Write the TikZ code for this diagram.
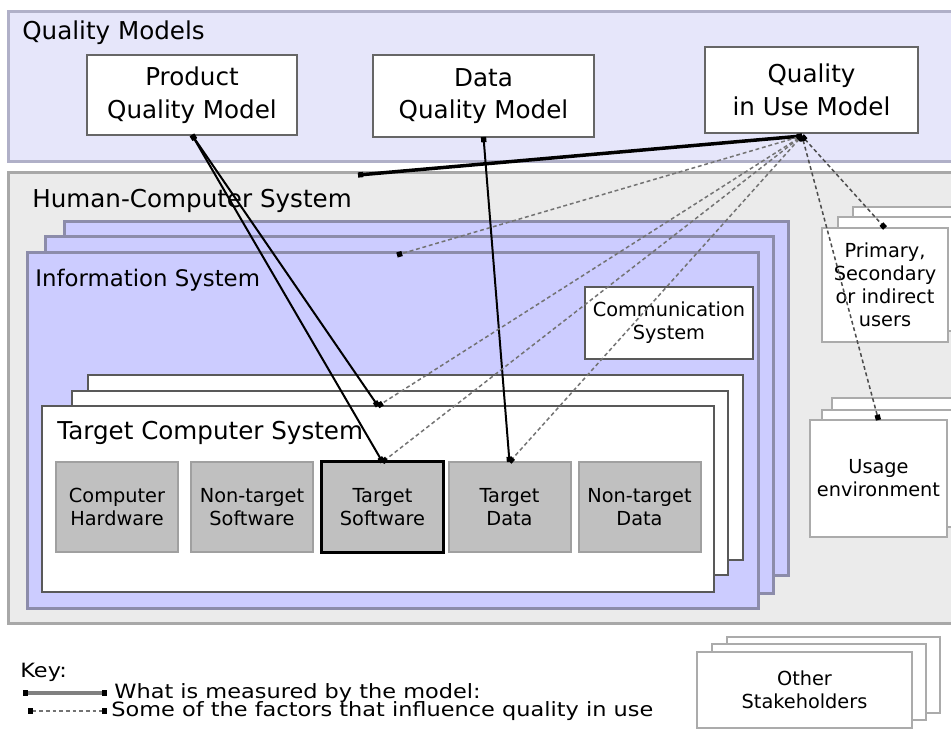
\documentclass[tikz,border=0pt]{standalone}
\usepackage{fontspec}
\setmainfont{DejaVu Sans}
\newfontfamily\keyfont[FakeStretch=1.14]{DejaVu Sans}
\usetikzlibrary{arrows.meta}
\definecolor{qmfill}{RGB}{230,230,250}
\definecolor{qmline}{RGB}{176,176,200}
\definecolor{hcfill}{RGB}{235,235,235}
\definecolor{hcline}{RGB}{168,168,168}
\definecolor{isfill}{RGB}{204,204,255}
\definecolor{isline}{RGB}{140,140,170}
\definecolor{partfill}{RGB}{192,192,192}
\definecolor{partline}{RGB}{160,160,160}
\newcommand{\pxu}{0.02cm}
\tikzset{
	sqtip/.tip={Square[length=3pt,width=3pt,color=black]},
	qmpanel/.style={draw=qmline, fill=qmfill, line width=3*\pxu},
	hcpanel/.style={draw=hcline, fill=hcfill, line width=3*\pxu},
	ispanel/.style={draw=isline, fill=isfill, line width=3*\pxu},
	tcsbox/.style={draw=black!65, fill=white, line width=2*\pxu, inner sep=0pt, outer sep=0pt},
	modelbox/.style={draw=black!60, fill=white, line width=2*\pxu, align=center, inner sep=0pt, outer sep=0pt, font=\fontsize{14}{18.5}\selectfont},
	sidebox/.style={draw=black!33, fill=white, line width=2*\pxu, align=center, inner sep=0pt, outer sep=0pt, font=\fontsize{11}{13}\selectfont},
	partbox/.style={draw=partline, fill=partfill, line width=2*\pxu, align=center, inner sep=0pt, outer sep=0pt, minimum width=122*\pxu, minimum height=90*\pxu, font=\fontsize{11}{13}\selectfont},
	tgtbox/.style={partbox, draw=black, line width=3*\pxu},
	title/.style={anchor=west, inner sep=0pt, font=\fontsize{14}{17}\selectfont},
	keytext/.style={anchor=west, inner sep=0pt, font=\keyfont\fontsize{11.2}{13}\selectfont},
	meas/.style={draw=black, line width=2*\pxu, sqtip-sqtip},
	infl/.style={draw=black!55, line width=1.5*\pxu, dash pattern=on 2.2pt off 1.6pt, sqtip-sqtip}
}
\begin{document}
\begin{tikzpicture}[x=0.02cm,y=-0.02cm]
	\useasboundingbox (0,0) rectangle (951,733);
	\clip (0,0) rectangle (951,733);
	\fill[white] (0,0) rectangle (951,733);
	\draw[qmpanel] (8,12) rectangle (975,162);
	\node[title] (qmlab) at (22,33) {Quality Models};
	\node[modelbox, minimum width=210*\pxu, minimum height=80*\pxu] (pqm) at (192,95) {Product\\Quality Model};
	\node[modelbox, minimum width=221*\pxu, minimum height=82*\pxu] (dqm) at (483.5,96) {Data\\Quality Model};
	\node[modelbox, minimum width=213*\pxu, minimum height=86*\pxu] (qiu) at (811.5,90) {Quality\\in Use Model};
	\draw[hcpanel] (8,173) rectangle (975,623);
	\node[title] (hclab) at (32,201) {Human-Computer System};
	\draw[ispanel] (64,222) rectangle (788,575);
	\draw[ispanel] (45,237) rectangle (773,593);
	\draw[ispanel] (27,253) rectangle (758,608);
	\node[title, font=\fontsize{13}{16}\selectfont] (islab) at (35,280) {Information System};
	\node[sidebox, draw=black!65, minimum width=168*\pxu, minimum height=72*\pxu] (comm) at (669,323) {Communication\\System};
	\draw[tcsbox] (88,375) rectangle (743,560);
	\draw[tcsbox] (72,391) rectangle (728,575);
	\node[tcsbox, minimum width=672*\pxu, minimum height=186*\pxu] (tcs) at (378,499) {};
	\node[title] (tcslab) at (57,433) {Target Computer System};
	\foreach \x/\nm/\st/\txt in {117/chw/partbox/{Computer\\Hardware}, 252/ntsw/partbox/{Non-target\\Software}, 382.5/tsw/tgtbox/{Target\\Software}, 509.5/tdat/partbox/{Target\\Data}, 639.5/ntdat/partbox/{Non-target\\Data}}
	{
		\node[\st] (\nm) at (\x,507) {\txt};
	}
	\draw[sidebox] (853,207) rectangle (990,321);
	\draw[sidebox] (838,217) rectangle (975,331);
	\node[sidebox, minimum width=126*\pxu, minimum height=114*\pxu] (usr) at (885,285) {Primary,\\Secondary\\or indirect\\users};
	\draw[sidebox] (832,398) rectangle (990,515);
	\draw[sidebox] (822,410) rectangle (980,527);
	\node[sidebox, minimum width=137*\pxu, minimum height=117*\pxu] (env) at (878.5,478.5) {Usage\\environment};
	\draw[sidebox] (727,637) rectangle (940,713);
	\draw[sidebox] (712,644) rectangle (926,720);
	\node[sidebox, minimum width=215*\pxu, minimum height=76*\pxu] (oth) at (804.5,690) {Other\\Stakeholders};
	\coordinate (qsrc) at (802,136);
	\coordinate (hcin) at (358,175);
	\coordinate (isin) at (397,255);
	\draw[meas] (pqm.south) -- (tcs.north);
	\draw[meas] (pqm.south) -- (tsw.north);
	\draw[meas] (dqm.south) -- (tdat.north);
	\draw[meas, line width=3.5*\pxu] (qsrc) -- (hcin);
	\draw[infl] (qsrc) -- (isin);
	\draw[infl] (qsrc) -- (tcs.north);
	\draw[infl] (qsrc) -- (tsw.north);
	\draw[infl] (qsrc) -- (tdat.north);
	\draw[infl, draw=black!70] (qsrc) -- (usr.north);
	\draw[infl, draw=black!70] (qsrc) -- (env.north);
	\node[keytext] (keylab) at (20,672) {Key:};
	\coordinate (ka) at (23,693);
	\coordinate (kb) at (107,693);
	\coordinate (kc) at (28,711);
	\coordinate (kd) at (107,711);
	\draw[meas, draw=black!50, line width=3.5*\pxu] (ka) -- (kb);
	\draw[infl] (kc) -- (kd);
	\node[keytext] (kmeas) at (114,693) {What is measured by the model:};
	\node[keytext] (kinfl) at (111,711) {Some of the factors that influence quality in use};
\end{tikzpicture}
\end{document}
